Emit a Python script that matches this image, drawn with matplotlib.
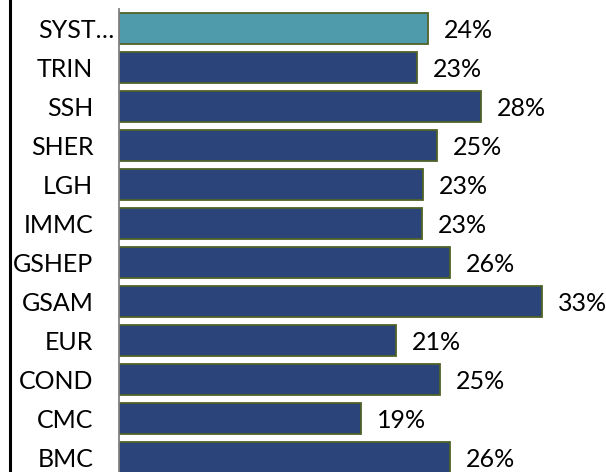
import matplotlib
matplotlib.use("Agg")
import matplotlib.pyplot as plt
from matplotlib.lines import Line2D

categories = ["SYST…", "TRIN", "SSH", "SHER", "LGH", "IMMC", "GSHEP", "GSAM", "EUR", "COND", "CMC", "BMC"]
values = [0.2384, 0.2299, 0.2793, 0.2454, 0.2346, 0.2338, 0.2554, 0.3264, 0.2137, 0.2477, 0.1867, 0.2554]
highlight = "SYST…"

plt.rcParams['font.family'] = ['Lato', 'DejaVu Sans']

W, H, DPI = 606, 472, 100
fig = plt.figure(figsize=(W / DPI, H / DPI), dpi=DPI)

left_px, top_px, band_px = 119, 9, 39
n = len(categories)
ax_h = band_px * n
ax = fig.add_axes([left_px / W, (H - top_px - ax_h) / H, (W - left_px) / W, ax_h / H])

navy = "#2B4479"
teal = "#4F9AAB"
edge = "#4F6228"
colors = [teal if c == highlight else navy for c in categories]
ypos = list(range(n))
ax.barh(ypos, values, height=0.795, color=colors, edgecolor=edge, linewidth=1.3)

ax.set_ylim(n - 0.5, -0.5)
ax.set_xlim(0, (W - left_px) / 1296)
ax.set_yticks(ypos)
ax.set_yticklabels(categories, fontsize=18)
ax.tick_params(axis='y', length=0, pad=18.5)
ax.get_yaxis().get_major_ticks()[0].set_pad(3)
ax.set_xticks([])
for s in ["top", "right", "bottom"]:
    ax.spines[s].set_visible(False)
ax.spines["left"].set_color("#808080")
ax.spines["left"].set_linewidth(1.3)

for y, v in zip(ypos, values):
    ax.annotate(f"{v:.0%}", xy=(v, y), xytext=(11.5, -1.5), textcoords="offset points",
                ha="left", va="center", fontsize=18, color="black", annotation_clip=False)

fig.add_artist(Line2D([9.5 / W, 9.5 / W], [0, 1], transform=fig.transFigure, color="black", linewidth=2.2))

fig.savefig("out.png", dpi=DPI)
